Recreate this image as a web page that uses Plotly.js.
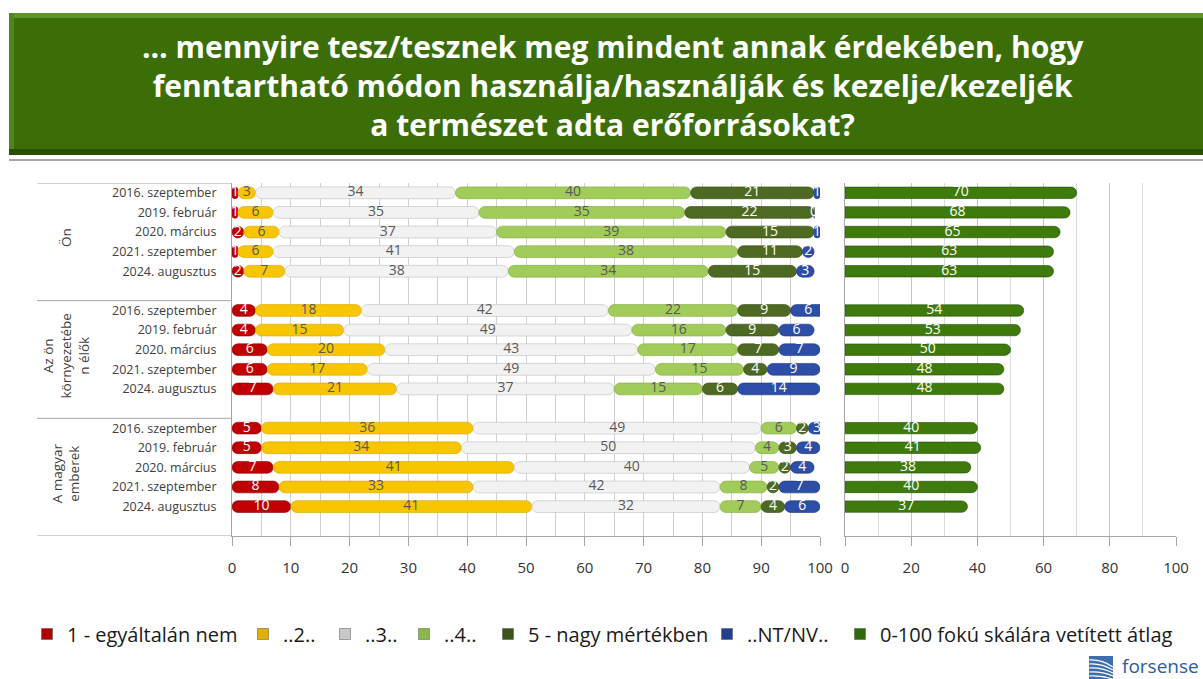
<!DOCTYPE html>
<html>
<head>
<meta charset="utf-8">
<script src="https://cdn.plot.ly/plotly-3.0.1.min.js"></script>
<style>html,body{margin:0;padding:0;background:#fff;}#chart{width:1203px;height:679px;}</style>
</head>
<body>
<div id="chart"></div>
<script>
// ---- data ----
const periods = ['2016. szeptember','2019. február','2020. március','2021. szeptember','2024. augusztus'];
const groups = ['Ön','Az ön<br>környezetébe<br>n élők','A magyar<br>emberek'];
const seriesNames = ['1 - egyáltalán nem','..2..','..3..','..4..','5 - nagy mértékben','..NT/NV..'];
const avgName = '0-100 fokú skálára vetített átlag';
// order within each group: 2016 szept, 2019 feb, 2020 márc, 2021 szept, 2024 aug
const v1  = [1,1,2,1,2,   4,4,6,6,7,     5,5,7,8,10];
const v2  = [3,6,6,6,7,   18,15,20,17,21, 36,34,41,33,41];
const v3  = [34,35,37,41,38, 42,49,43,49,37, 49,50,40,42,32];
const v4  = [40,35,39,38,34, 22,16,17,15,15, 6,4,5,8,7];
const v5  = [21,22,15,11,15, 9,9,7,4,6,    2,3,2,2,4];
const vNT = [1,0,1,2,3,   6,6,7,9,14,    3,4,4,7,6];
const avg = [70,68,65,63,63, 54,53,50,48,48, 40,41,38,40,37];

// ---- styles ----
const fills   = ['#c00000','#f7c600','#f2f2f2','#a2cc5a','#4e6a22','#2c4ea6'];
const lines   = ['#8a0000','#d9a400','#bdbdbd','#7fa83c','#344a14','#1c3578'];
const legFill = ['#b00000','#e0b000','#c8c8c8','#8cb84a','#3c5418','#22408e'];
const txtCols = ['#ffffff','#595959','#595959','#595959','#ffffff','#ffffff'];
const avgFill = '#3f7a0c';
const FONT = 'Open Sans, Lato, sans-serif';

const W=1203, H=679;
const px = v=>v/W, py = v=>1-v/H;

const series = [v1,v2,v3,v4,v5,vNT];
const nPer = periods.length;
const ypos = [];
const tickText = [];
groups.forEach((g,gi)=>periods.forEach((p,pi)=>{ ypos.push(gi*(nPer+1)+pi); tickText.push(p); }));

const traces = [];
const labelTraces = [];
const cum = new Array(ypos.length).fill(0);
series.forEach((vals,k)=>{
  const base = cum.slice();
  vals.forEach((v,i)=>cum[i]+=v);
  traces.push({
    type:'bar', orientation:'h', name:seriesNames[k], showlegend:false,
    x:vals, y:ypos, base:base, width:0.6,
    xaxis:'x', yaxis:'y',
    marker:{color:fills[k], line:{color:lines[k], width:0.6}, cornerradius:6},
    textposition:'none', hoverinfo:'skip'
  });
  labelTraces.push({
    type:'scatter', mode:'text', showlegend:false, cliponaxis:false,
    x:vals.map((v,i)=>base[i]+v/2), y:ypos, text:vals.map(String),
    textposition:'middle center', xaxis:'x', yaxis:'y',
    textfont:{family:FONT, size:14, color:txtCols[k]}, hoverinfo:'skip'
  });
});
traces.push({
  type:'bar', orientation:'h', name:avgName, showlegend:false,
  x:avg, y:ypos, width:0.58,
  xaxis:'x2', yaxis:'y2',
  marker:{color:avgFill, line:{color:'#244d04', width:0.6}, cornerradius:6},
  textposition:'none', hoverinfo:'skip'
});
labelTraces.push({
  type:'scatter', mode:'text', showlegend:false, cliponaxis:false,
  x:avg.map(v=>v/2), y:ypos, text:avg.map(String),
  textposition:'middle center', xaxis:'x2', yaxis:'y2',
  textfont:{family:FONT, size:14, color:'#ffffff'}, hoverinfo:'skip'
});

// legend-only entries (one legend each, to place them like the reference)
const legNames = seriesNames.concat([avgName]);
const legCols = legFill.concat(['#2f6a08']);
const legTextX = [68, 284, 366, 445, 529, 748, 881];
const legendLayouts = {};
const legendTraces = legNames.map((n,k)=>{
  const id = k===0 ? 'legend' : 'legend'+(k+1);
  legendLayouts[id] = {x:px(legTextX[k]-41), xanchor:'left', y:py(634), yanchor:'middle',
    bgcolor:'rgba(0,0,0,0)', borderwidth:0,
    font:{family:FONT, size:20, color:'#1a1a1a'}, itemclick:false, itemdoubleclick:false};
  return {type:'scatter', mode:'markers', name:n, legend:id, x:[null], y:[null], showlegend:true,
    marker:{symbol:'square', size:11, color:legCols[k], line:{color:'#555555', width:0.5}},
    xaxis:'x', yaxis:'y', hoverinfo:'skip'};
});

const yDom = [py(536), py(183)];
const nSlots = groups.length*(nPer+1)-1;

const shapes = [
  // title banner
  {type:'rect', xref:'paper', yref:'paper', x0:px(9), x1:1, y0:py(155), y1:py(13), fillcolor:'#3b6e08', line:{width:0}, layer:'below'},
  {type:'rect', xref:'paper', yref:'paper', x0:px(9), x1:1, y0:py(18), y1:py(13), fillcolor:'#5f9428', line:{width:0}, layer:'below'},
  {type:'rect', xref:'paper', yref:'paper', x0:px(9), x1:px(14), y0:py(155), y1:py(13), fillcolor:'#4f8420', line:{width:0}, layer:'below'},
  {type:'rect', xref:'paper', yref:'paper', x0:px(9), x1:1, y0:py(155), y1:py(149), fillcolor:'#284e04', line:{width:0}, layer:'below'},
  {type:'line', xref:'paper', yref:'paper', x0:px(9), x1:1, y0:py(160), y1:py(160), line:{color:'#a6a6a6', width:2}},
  // logo icon
  {type:'rect', xref:'paper', yref:'paper', x0:px(1089), x1:px(1113), y0:py(679), y1:py(656), fillcolor:'#3d6fb0', line:{width:0}},
];
for (let i=0;i<5;i++){
  shapes.push({type:'path', xref:'paper', yref:'paper',
    path:`M ${px(1089)} ${py(660+i*4)} Q ${px(1101)} ${py(659+i*4)} ${px(1113)} ${py(667+i*3)}`,
    line:{color:'#ffffff', width:1.2}});
}
// table separators for the left category area
for (let s=0; s<=groups.length; s++){
  const yv = s*(nPer+1)-0.5;
  shapes.push({type:'line', xref:'paper', yref:'y', x0:px(37), x1:px(232), y0:yv, y1:yv, line:{color:'#a6a6a6', width:1}});
}

const annotations = [
  {xref:'paper', yref:'paper', x:px(613), y:py(85), xanchor:'center', yanchor:'middle', showarrow:false,
   text:'<b>… mennyire tesz/tesznek meg mindent annak érdekében, hogy<br>fenntartható módon használja/használják és kezelje/kezeljék<br>a természet adta erőforrásokat?</b>',
   font:{family:FONT, size:30, color:'#ffffff'}, align:'center'},
  {xref:'paper', yref:'paper', x:px(1201), y:py(666), xanchor:'right', yanchor:'middle', showarrow:false,
   text:'forsense', font:{family:FONT, size:19, color:'#2e5c9c'}}
];
groups.forEach((g,gi)=>{
  annotations.push({xref:'paper', yref:'y', x:px(66), y:gi*(nPer+1)+(nPer-1)/2 + 0.3, xanchor:'center', yanchor:'middle',
    showarrow:false, text:g, textangle:-90, font:{family:FONT, size:13.5, color:'#404040'}, align:'center'});
});

const gridC = '#d0d0d0';
const layout = Object.assign({
  width:W, height:H, margin:{l:0,r:0,t:0,b:0},
  paper_bgcolor:'#ffffff', plot_bgcolor:'rgba(0,0,0,0)',
  barmode:'overlay', showlegend:true,
  font:{family:FONT, color:'#404040'},
  xaxis:{domain:[px(232),px(820)], range:[0,100], dtick:10, tick0:0, showgrid:true, gridcolor:gridC, gridwidth:1,
    minor:{dtick:5, showgrid:true, gridcolor:gridC, gridwidth:1},
    showline:true, linecolor:'#a6a6a6', ticks:'outside', ticklen:9, tickcolor:'#a6a6a6',
    tickfont:{family:FONT, size:15, color:'#333333'}, ticklabelstandoff:9, zeroline:false, fixedrange:true, automargin:false},
  yaxis:{domain:yDom, range:[nSlots+0.5,-0.5], tickvals:ypos, ticktext:tickText, showgrid:false, zeroline:false,
    showline:true, linecolor:'#a6a6a6', ticks:'', ticklabelstandoff:12,
    tickfont:{family:FONT, size:12.5, color:'#404040'}, fixedrange:true, automargin:false},
  xaxis2:{domain:[px(845),px(1176)], range:[0,100], dtick:20, tick0:0, anchor:'y2', showgrid:true, gridcolor:'#c4c4c4',
    minor:{dtick:10, showgrid:true, gridcolor:'#dadada'},
    showline:true, linecolor:'#a6a6a6', ticks:'outside', ticklen:9, tickcolor:'#a6a6a6',
    tickfont:{family:FONT, size:15, color:'#333333'}, ticklabelstandoff:9, zeroline:false, fixedrange:true, automargin:false},
  yaxis2:{domain:yDom, matches:'y', anchor:'x2', showticklabels:false, showgrid:false, zeroline:false,
    showline:true, linecolor:'#a6a6a6', ticks:'', fixedrange:true, automargin:false},
  shapes:shapes, annotations:annotations
}, legendLayouts);

Plotly.newPlot('chart', traces.concat(labelTraces, legendTraces), layout, {displayModeBar:false, staticPlot:true});
</script>
</body>
</html>
